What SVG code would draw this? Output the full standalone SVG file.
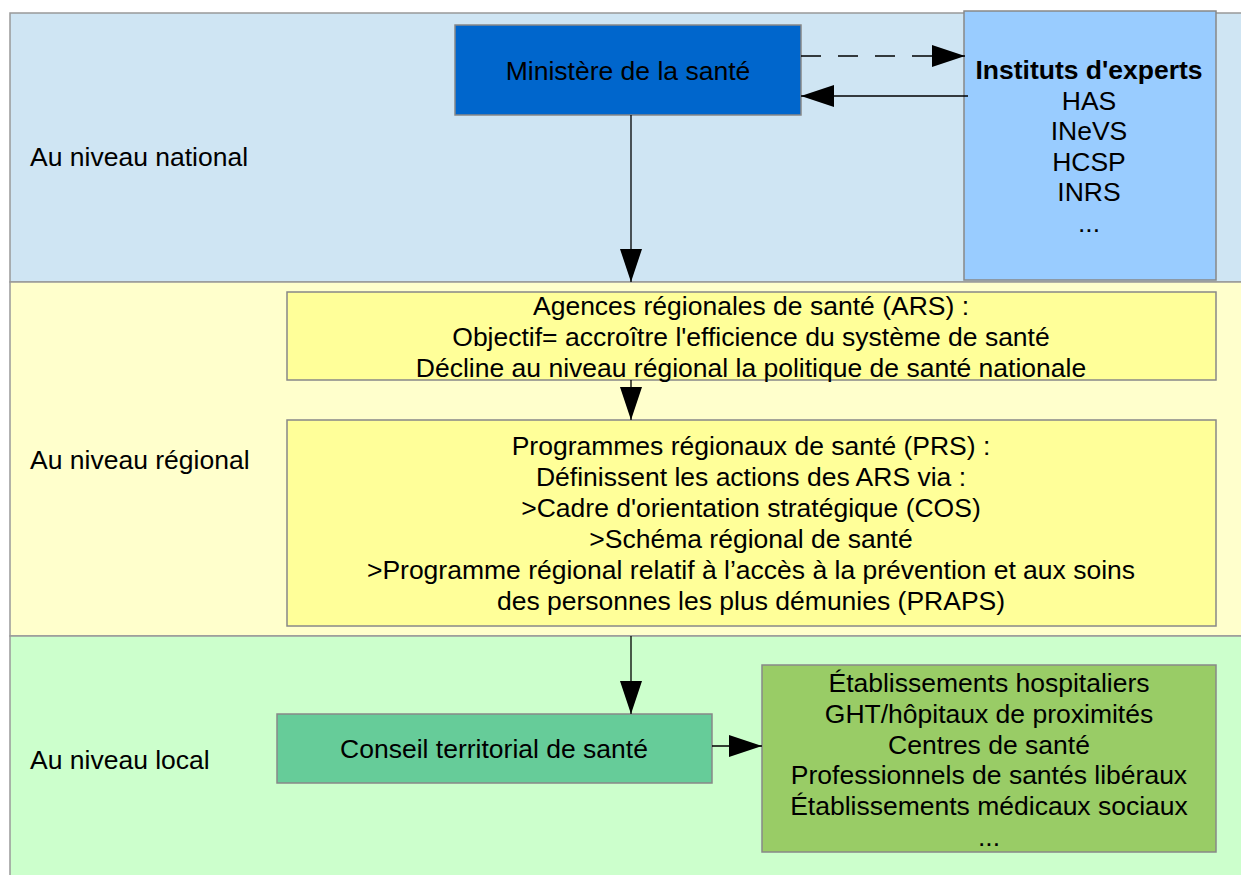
<svg xmlns="http://www.w3.org/2000/svg" width="1241" height="875" viewBox="0 0 1241 875">
<style>
text{font-family:"Liberation Sans",Arial,sans-serif;font-size:26.5px;fill:#000}
.c{text-anchor:middle}
.box{stroke:#888;stroke-width:1.5}
.band{stroke:#999;stroke-width:1.5}
.ln{stroke:#000;stroke-width:1.3;fill:none;marker-end:url(#ah)}
</style>
<defs>
<marker id="ah" markerUnits="userSpaceOnUse" markerWidth="34" markerHeight="22" refX="33" refY="11" orient="auto">
<path d="M0,0 L33,11 L0,22 z" fill="#000"/>
</marker>
</defs>
<rect width="1241" height="875" fill="#fff"/>
<g id="band-national"><rect class="band" x="10" y="13" width="1240" height="269" fill="#cfe5f3"/><text x="30" y="166">Au niveau national</text></g>
<g id="band-regional"><rect class="band" x="10" y="282" width="1240" height="354" fill="#ffffcc"/><text x="30" y="469">Au niveau régional</text></g>
<g id="band-local"><rect class="band" x="10" y="636" width="1240" height="250" fill="#ccffcc"/><text x="30" y="769">Au niveau local</text></g>

<g id="ministere"><rect class="box" x="455" y="25" width="346" height="90" fill="#0066cc"/><text class="c" x="628" y="80">Ministère de la santé</text></g>
<g id="instituts"><rect class="box" x="964" y="11" width="252" height="269" fill="#99ccff"/>
<text class="c" x="1089" y="79" font-weight="bold">Instituts d'experts</text>
<text class="c" x="1089" y="109.5">HAS</text>
<text class="c" x="1089" y="140">INeVS</text>
<text class="c" x="1089" y="170.5">HCSP</text>
<text class="c" x="1089" y="201">INRS</text>
<text class="c" x="1089" y="231.5">...</text></g>
<g id="ars"><rect class="box" x="287" y="292" width="929" height="88" fill="#ffff99"/>
<text class="c" x="751" y="315">Agences régionales de santé (ARS) :</text>
<text class="c" x="751" y="346">Objectif= accroître l'efficience du système de santé</text>
<text class="c" x="751" y="377">Décline au niveau régional la politique de santé nationale</text></g>
<g id="prs"><rect class="box" x="287" y="420" width="929" height="206" fill="#ffff99"/>
<text class="c" x="751" y="455">Programmes régionaux de santé (PRS) :</text>
<text class="c" x="751" y="486">Définissent les actions des ARS via :</text>
<text class="c" x="751" y="517">&gt;Cadre d'orientation stratégique (COS)</text>
<text class="c" x="751" y="548">&gt;Schéma régional de santé</text>
<text class="c" x="751" y="579">&gt;Programme régional relatif à l’accès à la prévention et aux soins</text>
<text class="c" x="751" y="610">des personnes les plus démunies (PRAPS)</text></g>
<g id="conseil"><rect class="box" x="277" y="714" width="435" height="69" fill="#66cc99"/><text class="c" x="494" y="758">Conseil territorial de santé</text></g>
<g id="etablissements"><rect class="box" x="762" y="665" width="454" height="187" fill="#99cc66"/>
<text class="c" x="989" y="692">Établissements hospitaliers</text>
<text class="c" x="989" y="723">GHT/hôpitaux de proximités</text>
<text class="c" x="989" y="754">Centres de santé</text>
<text class="c" x="989" y="784">Professionnels de santés libéraux</text>
<text class="c" x="989" y="815">Établissements médicaux sociaux</text>
<text class="c" x="989" y="846">...</text></g>

<g id="connectors">
<line class="ln" x1="801" y1="56" x2="965" y2="56" stroke-dasharray="20,17"/>
<line class="ln" x1="968" y1="96" x2="801" y2="96"/>
<line class="ln" x1="631" y1="115" x2="631" y2="282"/>
<line class="ln" x1="631" y1="380" x2="631" y2="420"/>
<line class="ln" x1="631" y1="636" x2="631" y2="714"/>
<line class="ln" x1="712" y1="746" x2="762" y2="746"/>
</g>
</svg>
